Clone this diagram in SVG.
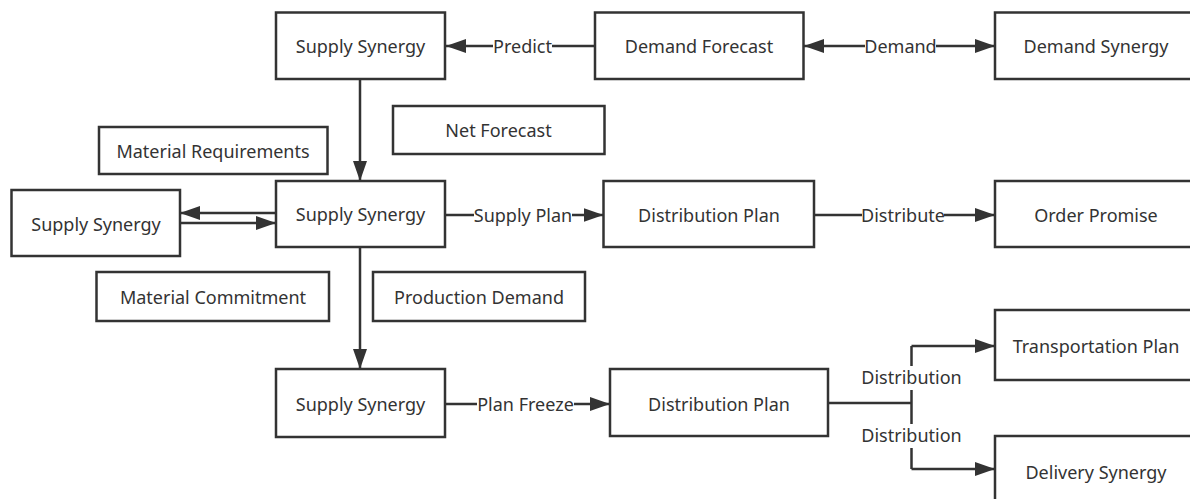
<svg xmlns="http://www.w3.org/2000/svg" width="1190" height="499" viewBox="0 0 1190 499">
<style>
.box{fill:#fff;stroke:#333;stroke-width:2.5}
.t{font-family:"Noto Sans","Open Sans",sans-serif;font-size:18px;fill:#333;text-anchor:middle;dominant-baseline:central}
.c{fill:none;stroke:#333;stroke-width:2.5}
.lb{fill:#fff}
</style>
<defs>
<marker id="ah" viewBox="0 0 20 14" refX="20" refY="7" markerWidth="20" markerHeight="14" markerUnits="userSpaceOnUse" orient="auto-start-reverse">
<path d="M0,0 L20,7 L0,14 z" fill="#333"/>
</marker>
</defs>
<rect width="1190" height="499" fill="#fff"/>
<g id="connectors">
<path class="c" d="M595,46 L446,46" marker-end="url(#ah)"/>
<path class="c" d="M804,46 L995,46" marker-start="url(#ah)" marker-end="url(#ah)"/>
<path class="c" d="M360,79 L360,181" marker-end="url(#ah)"/>
<path class="c" d="M276,213 L180,213" marker-end="url(#ah)"/>
<path class="c" d="M180,223 L276,223" marker-end="url(#ah)"/>
<path class="c" d="M445,215 L603.5,215" marker-end="url(#ah)"/>
<path class="c" d="M814,215 L995,215" marker-end="url(#ah)"/>
<path class="c" d="M360,247 L360,369" marker-end="url(#ah)"/>
<path class="c" d="M445,404 L610,404" marker-end="url(#ah)"/>
<path class="c" d="M828,403 L911.5,403 M911.5,346 L911.5,469"/>
<path class="c" d="M911.5,346 L995,346" marker-end="url(#ah)"/>
<path class="c" d="M911.5,469 L995,469" marker-end="url(#ah)"/>
<rect class="lb" x="493" y="34" width="59" height="24"/>
<text class="t" x="522.5" y="46">Predict</text>
<rect class="lb" x="865" y="34" width="71" height="24"/>
<text class="t" x="900.5" y="46">Demand</text>
<rect class="lb" x="474" y="203" width="98" height="24"/>
<text class="t" x="523" y="215">Supply Plan</text>
<rect class="lb" x="862" y="203" width="82" height="24"/>
<text class="t" x="903" y="215">Distribute</text>
<rect class="lb" x="477" y="392" width="97" height="24"/>
<text class="t" x="525.5" y="404">Plan Freeze</text>
<rect class="lb" x="862" y="366" width="99" height="24"/>
<text class="t" x="911.5" y="377">Distribution</text>
<rect class="lb" x="862" y="424" width="99" height="24"/>
<text class="t" x="911.5" y="435">Distribution</text>
</g>
<g id="n1"><rect class="box" x="276" y="12.5" width="169" height="66.5"/><text class="t" x="360.5" y="46">Supply Synergy</text></g>
<g id="n2"><rect class="box" x="595" y="12.5" width="208.5" height="66.5"/><text class="t" x="699" y="46">Demand Forecast</text></g>
<g id="n3"><rect class="box" x="995" y="12.5" width="202" height="66.5"/><text class="t" x="1096" y="46">Demand Synergy</text></g>
<g id="n4"><rect class="box" x="393" y="106" width="211.5" height="48"/><text class="t" x="498.5" y="130">Net Forecast</text></g>
<g id="n5"><rect class="box" x="99" y="127" width="228.5" height="47"/><text class="t" x="213" y="151">Material Requirements</text></g>
<g id="n6"><rect class="box" x="276" y="181" width="169" height="66"/><text class="t" x="360.5" y="214">Supply Synergy</text></g>
<g id="n7"><rect class="box" x="11.5" y="190" width="168.5" height="66"/><text class="t" x="96" y="224">Supply Synergy</text></g>
<g id="n8"><rect class="box" x="603.5" y="181" width="210.5" height="66"/><text class="t" x="709" y="215">Distribution Plan</text></g>
<g id="n9"><rect class="box" x="995" y="181" width="202" height="66"/><text class="t" x="1096" y="215">Order Promise</text></g>
<g id="n10"><rect class="box" x="96.5" y="272" width="232.5" height="49"/><text class="t" x="213" y="297">Material Commitment</text></g>
<g id="n11"><rect class="box" x="373" y="272" width="212" height="49"/><text class="t" x="479" y="297">Production Demand</text></g>
<g id="n12"><rect class="box" x="276" y="369" width="169" height="68"/><text class="t" x="360.5" y="404">Supply Synergy</text></g>
<g id="n13"><rect class="box" x="610" y="369" width="218" height="67"/><text class="t" x="719" y="404">Distribution Plan</text></g>
<g id="n14"><rect class="box" x="995" y="310" width="202" height="70"/><text class="t" x="1096" y="346">Transportation Plan</text></g>
<g id="n15"><rect class="box" x="995" y="436" width="202" height="70"/><text class="t" x="1096" y="472">Delivery Synergy</text></g>
</svg>
